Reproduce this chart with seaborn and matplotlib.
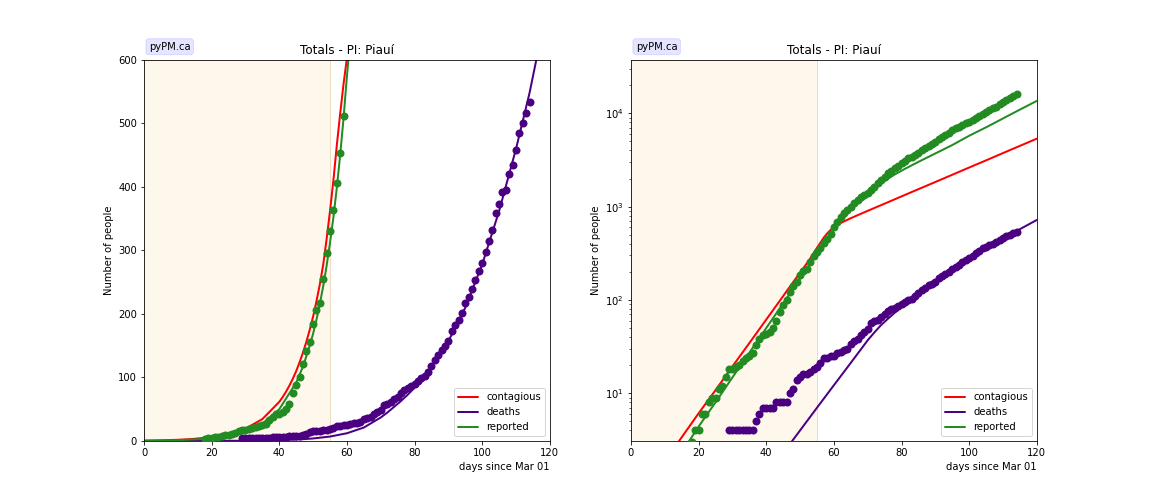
import numpy as np
import matplotlib
matplotlib.use("Agg")
import matplotlib.pyplot as plt
import seaborn as sns

# ---------------- data ----------------
title = "Totals - PI: Piauí"
x_label = "days since Mar 01"
y_label = "Number of people"
fit_end = 55  # end of fitting window (days)

# reported cases (daily data points), first day = 18
reported_start = 18
reported_vals = [3, 4, 4, 6, 6, 8, 9, 9, 11, 12, 15, 18, 18, 19, 20, 22, 24, 25, 27, 33,
                 38, 42, 43, 45, 50, 59, 75, 88, 101, 122, 142, 156, 185, 206, 217, 255,
                 296, 330, 364, 407, 453, 512, 611, 690, 782, 850, 921, 1000, 1086, 1180,
                 1280, 1330, 1389, 1510, 1637, 1780, 1931, 2100, 2275, 2420, 2572, 2740,
                 2910, 3100, 3294, 3440, 3580, 3780, 4000, 4217, 4460, 4710, 4970, 5250,
                 5550, 5860, 6200, 6550, 6900, 7200, 7500, 7810, 8150, 8500, 8840, 9350,
                 9880, 10420, 10850, 11300, 11780, 12450, 13150, 13900, 14700, 15400, 16200]

# deaths (daily data points), first day = 29
deaths_start = 29
deaths_vals = [4, 4, 4, 4, 4, 4, 4, 4, 5, 6, 7, 7, 7, 7, 8, 8, 8, 8, 10, 11, 14, 15, 16, 16,
               17, 18, 19, 21, 24, 24, 25, 25, 27, 28, 29, 30, 34, 36, 38, 42, 45, 49, 56,
               59, 61, 66, 70, 76, 80, 83, 86, 90, 94, 99, 103, 109, 118, 128, 135, 143,
               150, 157, 173, 182, 190, 201, 217, 226, 239, 253, 267, 281, 298, 315, 332,
               359, 373, 392, 395, 420, 435, 458, 485, 500, 516, 534]

# model curves
contagious_days = [0, 5, 10, 14, 20, 25, 30, 35, 40, 41, 42, 43, 44, 45, 46, 47, 48, 49, 50,
                   51, 52, 53, 54, 55, 56, 57, 58, 59, 60, 61, 62, 63, 65, 67, 70, 75, 80,
                   85, 90, 95, 100, 105, 110, 115, 120]
contagious_vals = [0.6, 1.07, 1.9, 3.0, 6.1, 10.8, 19.4, 34.5, 61.6, 69.2, 77.7, 87.3, 98,
                   110, 124, 139, 156, 175, 196, 220, 247, 278, 318, 362, 410, 465, 515, 562,
                   603, 638, 668, 695, 752, 809, 902, 1077, 1288, 1539, 1837, 2196, 2625,
                   3134, 3750, 4480, 5350]

reported_model_days = [0, 5, 10, 17, 20, 25, 30, 35, 40, 45, 47, 49, 50, 51, 52, 53, 54, 55,
                       56, 57, 58, 59, 60, 61, 62, 64, 66, 68, 70, 72, 75, 78, 81, 85, 90,
                       95, 100, 105, 110, 115, 120]
reported_model_vals = [0.38, 0.70, 1.29, 3.0, 4.4, 8.0, 14.8, 27.2, 50, 92, 117, 150, 169,
                       191, 216, 244, 276, 312, 352, 398, 450, 508, 574, 635, 700, 841, 1000,
                       1175, 1365, 1567, 1884, 2213, 2541, 3020, 3715, 4570, 5750, 7080,
                       8810, 10960, 13580]

deaths_model_days = [0, 10, 20, 30, 40, 47, 50, 55, 60, 65, 70, 72, 74, 76, 78, 80, 85, 90,
                     95, 100, 105, 110, 114, 116, 120]
deaths_model_vals = [0.0154, 0.047, 0.142, 0.433, 1.31, 2.86, 4.0, 7.0, 12.2, 21.2, 37, 45,
                     54, 63, 73, 84, 116, 157, 210, 278, 362, 460, 548, 600, 720]

# ---------------- style ----------------
sns.set_style("ticks", {"axes.edgecolor": "black", "xtick.color": "black",
                        "ytick.color": "black", "text.color": "black",
                        "axes.labelcolor": "black"})
plt.rcParams["font.family"] = ["DejaVu Sans"]

c_cont = "red"
c_death = "indigo"
c_rep = "forestgreen"

reported_days = np.arange(reported_start, reported_start + len(reported_vals))
deaths_days = np.arange(deaths_start, deaths_start + len(deaths_vals))

fig, axes = plt.subplots(1, 2, figsize=(16, 7), dpi=72)
fig.subplots_adjust(left=0.125, right=0.9, bottom=0.125, top=0.881, wspace=0.2)

for ax, scale in zip(axes, ["linear", "log"]):
    ax.axvspan(0, fit_end, facecolor="#fef7ec", edgecolor="#ecdcc2", lw=1, zorder=0)

    sns.lineplot(x=contagious_days, y=contagious_vals, color=c_cont, lw=2,
                 label="contagious", ax=ax, zorder=2)
    sns.lineplot(x=deaths_model_days, y=deaths_model_vals, color=c_death, lw=2,
                 label="deaths", ax=ax, zorder=2)
    sns.scatterplot(x=deaths_days, y=deaths_vals, color=c_death, s=64, linewidth=0,
                    ax=ax, zorder=3)
    sns.lineplot(x=reported_model_days, y=reported_model_vals, color=c_rep, lw=2,
                 label="reported", ax=ax, zorder=2)
    sns.scatterplot(x=reported_days, y=reported_vals, color=c_rep, s=64, linewidth=0,
                    ax=ax, zorder=3)

    ax.set_xlim(0, 120)
    if scale == "log":
        ax.set_yscale("log")
        ax.set_ylim(3.08, 37300)
    else:
        ax.set_ylim(0, 600)

    ax.set_title(title, fontsize=12)
    ax.set_xlabel(x_label, loc="right")
    ax.set_ylabel(y_label)
    ax.legend(loc="lower right")
    ax.text(0.012, 1.035, "pyPM.ca", transform=ax.transAxes, fontsize=10,
            ha="left", va="center",
            bbox=dict(boxstyle="round", facecolor="blue", alpha=0.1, edgecolor="blue"))

fig.savefig("out.png", dpi=72)
